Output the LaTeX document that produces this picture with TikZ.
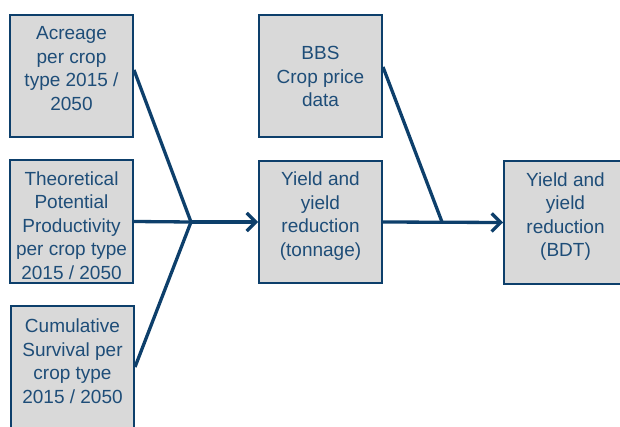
\documentclass[tikz,border=0pt]{standalone}
\usepackage{fontspec}
\setmainfont{Liberation Sans}
\usetikzlibrary{arrows.meta}
\definecolor{navy}{HTML}{0D3F6B}
\definecolor{inktext}{HTML}{1E4D78}
\definecolor{boxgray}{HTML}{D9D9D9}
\begin{document}
\begin{tikzpicture}[x=1pt,y=1pt,
  databox/.style={draw=navy, line width=2pt, fill=boxgray,
    minimum width=123pt, minimum height=122pt, inner sep=0pt},
  boxtext/.style={anchor=north, inner sep=0pt, align=center, text=inktext,
    font=\fontsize{19}{23.5}\selectfont},
  link/.style={draw=navy, line width=3.3pt},
  flow/.style={link, -{Straight Barb[length=9pt,width=18pt]}}
]
\useasboundingbox (0,0) rectangle (620,426);
\clip (0,0) rectangle (620,426);

% input boxes (left column)
\node[databox] (A) at (71.5,350) {};
\node[databox] (B) at (71.5,204.5) {};
\node[databox] (C) at (72.5,59) {};
% middle column
\node[databox] (D) at (320.5,350) {};
\node[databox] (E) at (320.5,204) {};
% output box (partly beyond the right edge)
\node[databox] (F) at (565.5,203.5) {};

% box labels, hung from the top edge
\node[boxtext] (tA) at ([yshift=-9pt]A.north) {\strut Acreage\\per crop\\type 2015 /\\2050};
\node[boxtext] (tB) at ([yshift=-9pt]B.north) {\strut Theoretical\\Potential\\Productivity\\per crop type\\2015 / 2050};
\node[boxtext] (tC) at ([yshift=-11pt]C.north) {\strut Cumulative\\Survival per\\crop type\\2015 / 2050};
\node[boxtext] (tD) at ([yshift=-29pt]D.north) {\strut BBS\\Crop price\\data};
\node[boxtext] (tE) at ([yshift=-9pt]E.north) {\strut Yield and\\yield\\reduction\\(tonnage)};
\node[boxtext] (tF) at ([yshift=-9pt]F.north) {\strut Yield and\\yield\\reduction\\(BDT)};

% merge points
\coordinate (J1) at (191,204);
\coordinate (J2) at (442,204);

% inputs merging into the tonnage step
\draw[link] ([yshift=6pt]A.east) -- (J1);
\draw[link] (B.east) -- (J1);
\draw[link] (C.east) -- (J1);
\draw[flow] (J1) -- (E.west);

% price data and tonnage merging into the BDT step
\draw[link] ([yshift=9pt]D.east) -- (J2);
\draw[flow] (E.east) -- (F.west);
\end{tikzpicture}
\end{document}
